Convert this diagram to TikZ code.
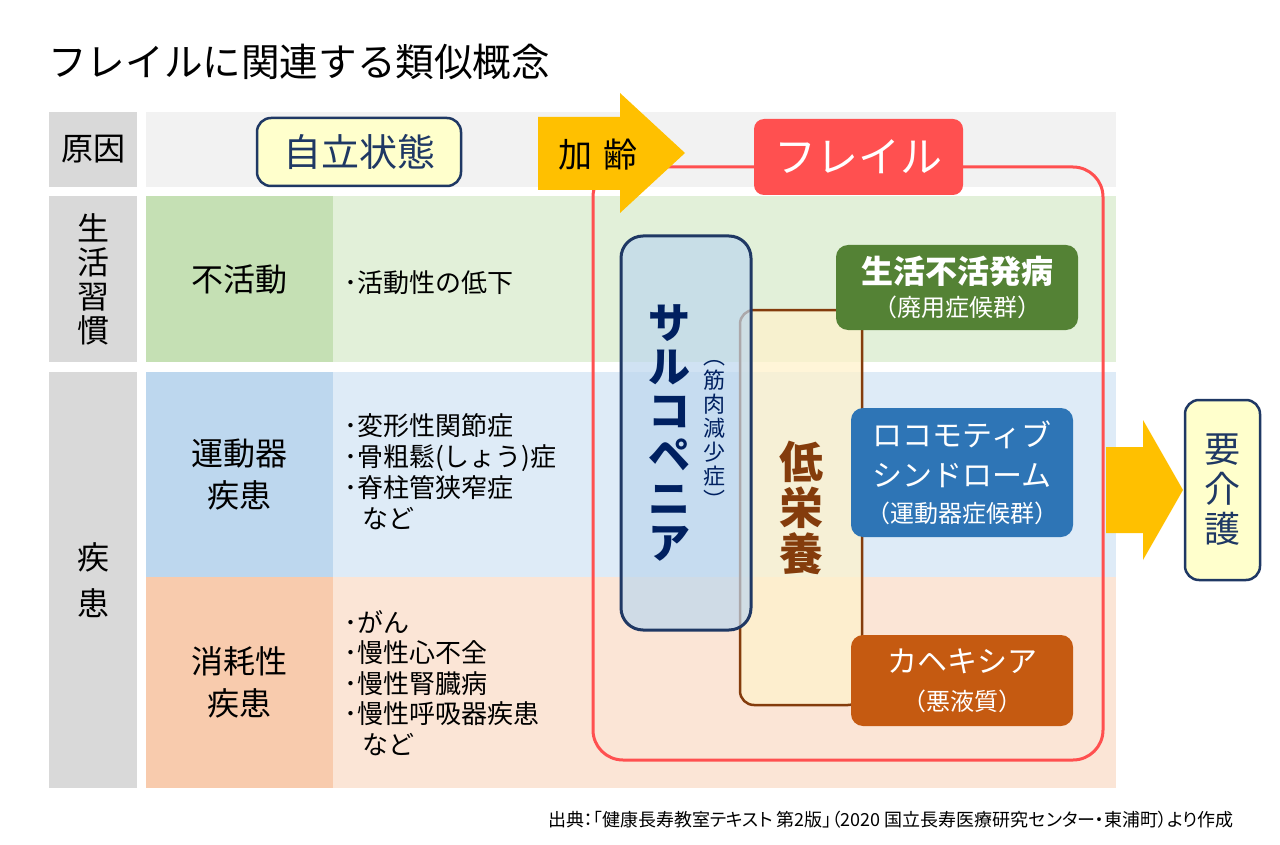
\documentclass[tikz,border=0pt]{standalone}
\usepackage{fontspec}
\setmainfont{Noto Sans CJK JP}
\newfontfamily\srcfont[RawFeature=+palt]{Noto Sans CJK JP}
\usepackage{xcolor}
\usepackage{tikz}
\definecolor{headgray}{HTML}{D9D9D9}
\definecolor{causegray}{HTML}{F2F2F2}
\definecolor{greendark}{HTML}{C5E0B4}
\definecolor{greenlight}{HTML}{E2F0D9}
\definecolor{bluedark}{HTML}{BDD7EE}
\definecolor{bluelight}{HTML}{DEEBF7}
\definecolor{peachdark}{HTML}{F8CBAD}
\definecolor{peachlight}{HTML}{FBE5D6}
\definecolor{agingyellow}{HTML}{FFC000}
\definecolor{frailred}{HTML}{FF5050}
\definecolor{navy}{HTML}{1F3864}
\definecolor{sarconavy}{HTML}{002060}
\definecolor{creamfill}{HTML}{FFF2CC}
\definecolor{malbrown}{HTML}{843C0C}
\definecolor{disusegreen}{HTML}{548235}
\definecolor{locoblue}{HTML}{2E75B6}
\definecolor{cachexiaorange}{HTML}{C55A11}
\definecolor{careyellow}{HTML}{FFFFCC}
\newcommand{\jpsize}[2]{\fontsize{#1}{#2}\selectfont}

\begin{document}
\begin{tikzpicture}[
  x=1pt, y=-1pt,
  head/.style={fill=headgray, minimum width=88, inner sep=0, align=center, font=\jpsize{32}{34}},
  band/.style={inner sep=0, align=center, font=\jpsize{32}{42}},
  list/.style={anchor=north west, inner sep=0, align=left, font=\jpsize{26}{31}},
  tag/.style={rounded corners=12, inner sep=0, align=center, text=white},
  statebox/.style={draw=navy, line width=2.5, fill=careyellow, rounded corners=14, inner sep=0, text=navy}
]
\useasboundingbox (0,0) rectangle (1280,845);
\fill[white] (0,0) rectangle (1280,845);

% title
\node[anchor=west, inner sep=0, font=\jpsize{38.6}{40}] (title) at (48,62) {フレイルに関連する類似概念};

% row headers
\node[head, minimum height=75] (hcause) at (93,149.5) {原因};
\node[head, minimum height=166] (hlife) at (93,279) {生\\活\\習\\慣};
\node[head, minimum height=416, font=\jpsize{32}{46}] (hdis) at (93,580) {疾\\患};

% bands
\node[band, fill=causegray, minimum width=970, minimum height=75] (causeband) at (631,149.5) {};
\node[band, fill=greenlight, minimum width=783, minimum height=166] (lifeband) at (724.5,279) {};
\node[band, fill=greendark, minimum width=187, minimum height=166] (inact) at (239.5,279) {不活動};
\node[band, fill=bluelight, minimum width=783, minimum height=205] (locoband) at (724.5,474.5) {};
\node[band, fill=bluedark, minimum width=187, minimum height=205] (locodis) at (239.5,474.5) {運動器\\疾患};
\node[band, fill=peachlight, minimum width=783, minimum height=211] (wasteband) at (724.5,682.5) {};
\node[band, fill=peachdark, minimum width=187, minimum height=211] (wastedis) at (239.5,682.5) {消耗性\\疾患};

% lists
\node[list, anchor=west] (inactlist) at (344,283) {･活動性の低下};
\node[list] (locolist) at (344,413) {･変形性関節症\\･骨粗鬆(しょう)症\\･脊柱管狭窄症\\\hspace*{.7em}など};
\node[list, font=\jpsize{26}{30.5}] (wastelist) at (344,610) {･がん\\･慢性心不全\\･慢性腎臓病\\･慢性呼吸器疾患\\\hspace*{.7em}など};

% independent state and aging
\node[statebox, minimum width=204, minimum height=68, font=\jpsize{38}{40}] (indep) at (359,152) {自立状態};

% frailty frame
\node[draw=frailred, line width=3, rounded corners=30, minimum width=510, minimum height=593] (frail) at (848,463.5) {};
\fill[agingyellow] (538,117) -- (620,117) -- (620,93) -- (685,153) -- (620,213) -- (620,190) -- (538,190) -- cycle;
\node[inner sep=0, font=\jpsize{34}{36}] (aging) at (598,155) {加\hspace{.3em}齢};
\node[tag, fill=frailred, rounded corners=10, minimum width=209, minimum height=76, font=\jpsize{42}{44}] (fraillabel) at (858.5,157) {フレイル};

% malnutrition under sarcopenia
\node[draw=malbrown, line width=2.5, fill=creamfill, fill opacity=0.75, text opacity=1, rounded corners=14,
  minimum width=122, minimum height=395, inner sep=0] (malnut) at (801,507.5) {};
\node[inner sep=0, align=center, text=malbrown, font=\jpsize{44}{46}\bfseries] (malname) at (801,508) {低\\栄\\養};
\node[draw=navy, line width=3, fill=bluedark, fill opacity=0.7, text opacity=1, rounded corners=22,
  minimum width=130, minimum height=394, inner sep=0] (sarco) at (686,433) {};
\node[inner sep=0, align=center, text=sarconavy, font=\jpsize{42}{44}\bfseries] (sarconame) at (669,433) {サ\\ル\\コ\\ペ\\ニ\\ア};
\node[inner sep=0, align=center, text=sarconavy, font=\jpsize{22}{24}] (sarcosub) at (714,434) {︵\\筋\\肉\\減\\少\\症\\︶};

% related syndromes
\node[tag, fill=disusegreen, minimum width=242, minimum height=85, font=\jpsize{32}{36}] (disuse) at (957,287.5)
  {\bfseries 生活不活発病\\[-3pt]{\jpsize{24}{26}（廃用症候群）}};
\node[tag, fill=locoblue, minimum width=222, minimum height=129, font=\jpsize{30}{40}] (locomo) at (962,472.5)
  {ロコモティブ\\シンドローム\\[-4pt]{\jpsize{24}{26}（運動器症候群）}};
\node[tag, fill=cachexiaorange, minimum width=222, minimum height=91, font=\jpsize{30}{38}] (cachexia) at (962,680.5)
  {カヘキシア\\{\jpsize{24}{26}（悪液質）}};

% care needed
\fill[agingyellow] (1106,447) -- (1143,447) -- (1143,420) -- (1183,490) -- (1143,560) -- (1143,533) -- (1106,533) -- cycle;
\node[statebox, minimum width=75, minimum height=180, align=center, font=\jpsize{36}{40}] (care) at (1222.5,490) {要\\介\\護};

% source
\node[anchor=east, inner sep=0, font=\srcfont\jpsize{18}{20}] (source) at (1234,820) {出典：「健康長寿教室テキスト 第2版」（2020 国立長寿医療研究センター・東浦町）より作成};
\end{tikzpicture}
\end{document}
